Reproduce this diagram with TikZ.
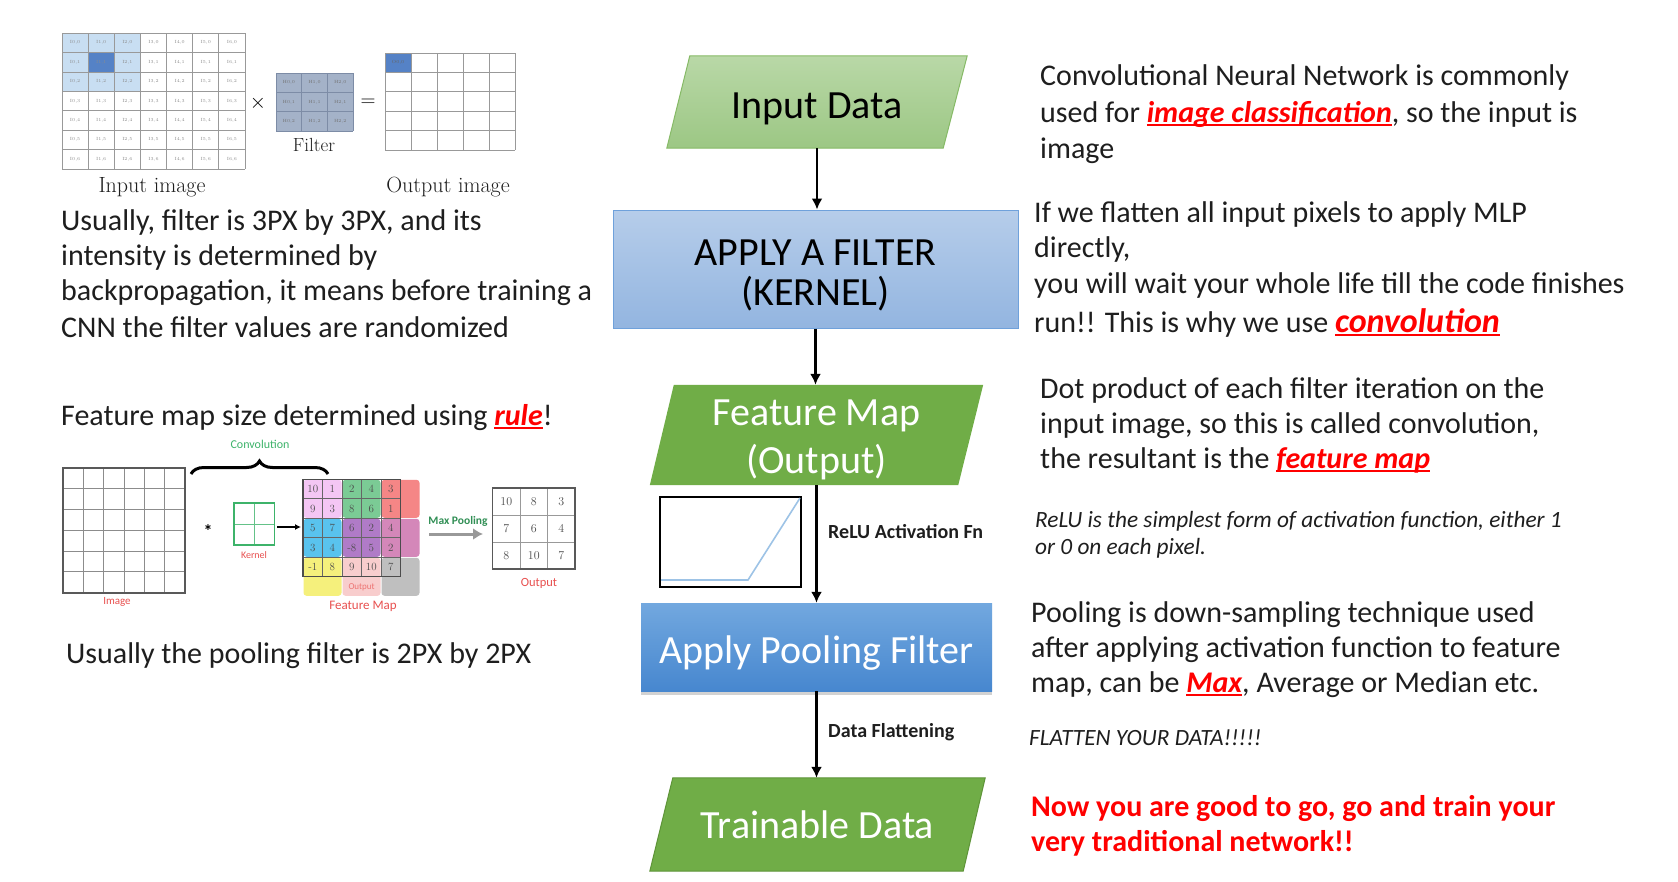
\documentclass[tikz,border=0pt]{standalone}
\usepackage{fontspec}
\setsansfont{Carlito}
\renewcommand{\familydefault}{\sfdefault}
\usetikzlibrary{arrows.meta,backgrounds,shadows,decorations.pathreplacing}

\definecolor{inTop}{HTML}{B9D8A7}
\definecolor{inBot}{HTML}{9CC784}
\definecolor{inLine}{HTML}{86BA66}
\definecolor{fTop}{HTML}{B6CDEA}
\definecolor{fBot}{HTML}{93B5E0}
\definecolor{fLine}{HTML}{6FA1DB}
\definecolor{leaf}{HTML}{70AD47}
\definecolor{leafLine}{HTML}{5E9438}
\definecolor{pTop}{HTML}{72A8DF}
\definecolor{pBot}{HTML}{4787CF}
\definecolor{reluC}{HTML}{9DC3E6}
\definecolor{hot}{HTML}{FF0000}
\definecolor{ink}{HTML}{1E1E1E}
\definecolor{cellBlue}{HTML}{C8DEF2}
\definecolor{cellDark}{HTML}{5582C6}
\definecolor{filtFill}{HTML}{A4B2C8}
\definecolor{filtLine}{HTML}{7D8CA6}
\definecolor{fmA}{HTML}{F4C6F4}
\definecolor{fmB}{HTML}{7BCB95}
\definecolor{fmC}{HTML}{F58686}
\definecolor{fmD}{HTML}{59C3EE}
\definecolor{fmE}{HTML}{B07BC7}
\definecolor{fmF}{HTML}{D487B9}
\definecolor{fmG}{HTML}{F5F07C}
\definecolor{fmH}{HTML}{F8CDCD}
\definecolor{fmI}{HTML}{BFBFBF}
\definecolor{convGreen}{HTML}{3DB36A}
\definecolor{softRed}{HTML}{E8504F}

% red bold italic underlined keyword
\newsavebox{\kwbox}
\newcommand{\keyword}[1]{{\color{hot}\bfseries\itshape\sbox{\kwbox}{#1}%
  \rlap{\rule[-0.12em]{\wd\kwbox}{0.065em}}\usebox{\kwbox}}}

\tikzset{
  body/.style={anchor=base west, inner sep=0pt, text=ink, font=\fontsize{30}{36}\selectfont},
  note/.style={anchor=base west, inner sep=0pt, text=ink, font=\fontsize{23.3}{26}\selectfont\itshape},
  shout/.style={anchor=base west, inner sep=0pt, text=hot, font=\fontsize{30}{36}\selectfont\bfseries},
  flowtxt/.style={font=\fontsize{40}{40}\selectfont, align=center, inner sep=0pt},
  arrowlbl/.style={anchor=west, inner sep=0pt, font=\fontsize{20}{22}\selectfont\bfseries, text=ink},
  flow/.style={line width=2.6pt, -{Latex[length=11pt,width=11pt]}},
  celltxt/.style={inner sep=0pt, font=\rmfamily\fontsize{4.5}{5}\selectfont, text=black!45},
  caption/.style={inner sep=0pt, font=\rmfamily\fontsize{22}{24}\selectfont, text=ink},
  tiny/.style={inner sep=0pt, font=\fontsize{12}{13}\selectfont},
  fmnum/.style={inner sep=0pt, font=\rmfamily\fontsize{11}{12}\selectfont, text=black!70},
}

\begin{document}
\begin{tikzpicture}[x=1pt,y=-1pt]
\useasboundingbox (0,0) rectangle (1678,881);

% ---------------- flowchart ----------------
\node[flowtxt, text height=32pt, text depth=0pt, minimum width=300, minimum height=92] (inp) at (817,102) {Input Data};
\node[minimum width=405, minimum height=118, inner sep=0pt, draw=fLine, line width=1pt,
      top color=fTop, bottom color=fBot] (filt) at (815.5,269) {};
\node[flowtxt] (filttxt) at (815.5,275.5) {APPLY A FILTER\\(KERNEL)};
\node[minimum width=333, minimum height=100, inner sep=0pt] (fmap) at (816.5,435) {};
\node[flowtxt, font=\fontsize{40}{48}\selectfont, text=white] (fmaptxt) at (816.5,440) {Feature Map\\(Output)};
\node[flowtxt, text height=32pt, text depth=0pt, text=white, minimum width=351, minimum height=88, top color=pTop, bottom color=pBot,
      drop shadow={shadow xshift=0pt, shadow yshift=-4pt, opacity=0.35}] (pool) at (816.5,647) {Apply Pooling Filter};
\node[flowtxt, text depth=0pt, text=white, minimum width=335, minimum height=93] (train) at (817.5,824.5) {Trainable Data};

\begin{scope}[on background layer]
  \fill[white] (0,0) rectangle (1678,881);
  \path[draw=inLine, line width=1pt, top color=inTop, bottom color=inBot]
    ([xshift=23pt]inp.north west) -- (inp.north east) -- ([xshift=-24pt]inp.south east) -- (inp.south west) -- cycle;
  \path[fill=leaf]
    ([xshift=24pt]fmap.north west) -- (fmap.north east) -- ([xshift=-25pt]fmap.south east) -- (fmap.south west) -- cycle;
  \path[fill=leaf, draw=leafLine, line width=1pt]
    ([xshift=23pt]train.north west) -- (train.north east) -- ([xshift=-22pt]train.south east) -- (train.south west) -- cycle;
\end{scope}

\draw[flow] (inp.south) -- (inp.south |- filt.north);
\draw[flow] (filt.south) -- (filt.south |- fmap.north);
\draw[flow] (fmap.south) -- (fmap.south |- pool.north);
\draw[flow] (pool.south) -- (pool.south |- train.north);

\node[arrowlbl] (relulbl) at (828,532) {ReLU Activation Fn};
\node[arrowlbl] (flatlbl) at (828,732) {Data Flattening};

% ReLU sketch
\node[draw=black, line width=1.2pt, minimum width=141, minimum height=90, inner sep=0pt] (relu) at (730.5,542) {};
\draw[reluC, line width=1.6pt] (661,580) -- (748,580) -- (800,498);

% ---------------- right-hand notes ----------------
\node[body] (r1a) at (1040,85)  {Convolutional Neural Network is commonly};
\node[body] (r1b) at (1040,122) {used for \keyword{image classification}, so the input is};
\node[body] (r1c) at (1040,158) {image};

\node[body] (r2a) at (1034,222) {If we flatten all input pixels to apply MLP};
\node[body] (r2b) at (1034,257) {directly,};
\node[body] (r2c) at (1034,293) {you will wait your whole life till the code finishes};
\node[body] (r2d) at (1034,332) {run!! This is why we use {\fontsize{34}{34}\selectfont\keyword{convolution}}};

\node[body] (r3a) at (1040,398) {Dot product of each filter iteration on the};
\node[body] (r3b) at (1040,433) {input image, so this is called convolution,};
\node[body] (r3c) at (1040,468) {the resultant is the \keyword{feature map}};

\node[note] (r4a) at (1035,527) {ReLU is the simplest form of activation function, either 1};
\node[note] (r4b) at (1035,554) {or 0 on each pixel.};

\node[body] (r5a) at (1031,622) {Pooling is down-sampling technique used};
\node[body] (r5b) at (1031,657) {after applying activation function to feature};
\node[body] (r5c) at (1031,692) {map, can be \keyword{Max}, Average or Median etc.};

\node[note] (r6) at (1029,745) {FLATTEN YOUR DATA!!!!!};

\node[shout] (r7a) at (1031,816) {Now you are good to go, go and train your};
\node[shout] (r7b) at (1031,851) {very traditional network!!};

% ---------------- left-hand notes ----------------
\node[body] (l1a) at (61,230) {Usually, filter is 3PX by 3PX, and its};
\node[body] (l1b) at (61,265) {intensity is determined by};
\node[body] (l1c) at (61,300) {backpropagation, it means before training a};
\node[body] (l1d) at (61,337) {CNN the filter values are randomized};
\node[body] (l2)  at (61,425) {Feature map size determined using \keyword{rule}!};
\node[body] (l3)  at (66,663) {Usually the pooling filter is 2PX by 2PX};

% ---------------- convolution sketch (top left) ----------------
% input image 7x7
\fill[cellBlue] (62,33) rectangle ({62+3*26.14},{33+3*19.43});
\fill[cellDark] ({62+26.14},{33+19.43}) rectangle ({62+2*26.14},{33+2*19.43});
\foreach \k in {0,...,7}{
  \draw[black!40, line width=0.7pt] ({62+26.14*\k},33) -- ({62+26.14*\k},169);
  \draw[black!40, line width=0.7pt] (62,{33+19.43*\k}) -- (245,{33+19.43*\k});
}
\foreach \c in {0,...,6}{\foreach \r in {0,...,6}{
  \node[celltxt] (ic\c\r) at ({62+26.14*(\c+0.5)},{33+19.43*(\r+0.5)}) {I\c,\r};
}}
\node[caption] (incap) at (152,187) {Input image};
\node[inner sep=0pt, font=\rmfamily\fontsize{20}{20}\selectfont] (times) at (258,103) {$\times$};

% filter 3x3
\fill[filtFill] (276,73) rectangle (353,131);
\foreach \k in {0,...,3}{
  \draw[filtLine, line width=0.7pt] ({276+25.67*\k},73) -- ({276+25.67*\k},131);
  \draw[filtLine, line width=0.7pt] (276,{73+19.33*\k}) -- (353,{73+19.33*\k});
}
\foreach \c in {0,...,2}{\foreach \r in {0,...,2}{
  \node[celltxt, text=black!55] (hc\c\r) at ({276+25.67*(\c+0.5)},{73+19.33*(\r+0.5)}) {H\c,\r};
}}
\node[caption, font=\rmfamily\fontsize{19}{20}\selectfont] (filtcap) at (314,145) {Filter};
\node[inner sep=0pt, font=\rmfamily\fontsize{20}{20}\selectfont] (equals) at (368,103) {$=$};

% output 5x5
\fill[cellDark] (385,53) rectangle (411,72.4);
\foreach \k in {0,...,5}{
  \draw[black!40, line width=0.7pt] ({385+26*\k},53) -- ({385+26*\k},150);
  \draw[black!40, line width=0.7pt] (385,{53+19.4*\k}) -- (515,{53+19.4*\k});
}
\node[celltxt, text=black!60] (oc00) at (398,62.7) {O0,0};
\node[caption] (outcap) at (448,187) {Output image};

% ---------------- pooling sketch (bottom left) ----------------
% image 6x6
\def\gx{63}\def\gy{468}\def\gw{20.32}\def\gh{20.77}
\foreach \k in {1,...,5}{
  \draw[black!45, line width=0.8pt] ({\gx+\gw*\k},\gy) -- ({\gx+\gw*\k},{\gy+6*\gh});
  \draw[black!45, line width=0.8pt] (\gx,{\gy+\gh*\k}) -- ({\gx+6*\gw},{\gy+\gh*\k});
}
\draw[black!65, line width=1.8pt] (\gx,\gy) rectangle ({\gx+6*\gw},{\gy+6*\gh});
\node[tiny, text=softRed, font=\fontsize{11}{12}\selectfont] (imglbl) at (117,602) {Image};

% brace + label
\draw[line width=3pt, decorate, decoration={brace, amplitude=13pt}] (191,474) -- (328,474);
\node[tiny, text=convGreen] (convlbl) at (260,444) {Convolution};

\node[inner sep=0pt, font=\fontsize{18}{18}\selectfont\bfseries] (star) at (208,531) {*};

% kernel 2x2
\draw[convGreen!80, line width=0.8pt] (254.25,503) -- (254.25,545) (234,524) -- (274.5,524);
\draw[convGreen, line width=1.5pt] (234,503) rectangle (274.5,545);
\node[tiny, text=softRed, font=\fontsize{10}{11}\selectfont] (kerlbl) at (254,555) {Kernel};
\coordinate (kerR) at (277,527);
\coordinate (fmL) at (301,527);
\draw[line width=1.5pt, -{Latex[length=6pt,width=6pt]}] (kerR) -- (fmL);

% feature map: 2x2 coloured pooling windows
\def\fx{303}\def\fy{479.3}\def\cw{19.5}\def\ch{19.5}
\foreach \bx/\by/\col in {0/0/fmA,1/0/fmB,2/0/fmC,0/1/fmD,1/1/fmE,2/1/fmF,0/2/fmG,1/2/fmH,2/2/fmI}{
  \fill[\col, rounded corners=3pt] ({\fx+2*\cw*\bx+0.5},{\fy+2*\ch*\by+0.5}) rectangle ({\fx+2*\cw*(\bx+1)-0.5},{\fy+2*\ch*(\by+1)-0.5});
}
\foreach \k in {1,...,4}{
  \draw[black!60, line width=0.7pt] ({\fx+\cw*\k},\fy) -- ({\fx+\cw*\k},{\fy+5*\ch});
  \draw[black!60, line width=0.7pt] (\fx,{\fy+\ch*\k}) -- ({\fx+5*\cw},{\fy+\ch*\k});
}
\draw[black!70, line width=1.3pt] (\fx,\fy) rectangle ({\fx+5*\cw},{\fy+5*\ch});
\foreach \r/\row in {0/{10,1,2,4,3},1/{9,3,8,6,1},2/{5,7,6,2,4},3/{3,4,-8,5,2},4/{-1,8,9,10,7}}{
  \foreach \v [count=\c from 0] in \row {
    \node[fmnum] (fm\r\c) at ({\fx+\cw*(\c+0.5)},{\fy+\ch*(\r+0.5)}) {\v};
  }
}
\node[tiny, text=softRed!80, font=\fontsize{9}{10}\selectfont] (fmout) at (361.6,587) {Output};
\node[tiny, text=softRed, font=\fontsize{13}{14}\selectfont] (fmlbl) at (363,606) {Feature Map};

% max pooling arrow
\node[tiny, text=convGreen!80!black, font=\fontsize{11.5}{12}\selectfont\bfseries] (mplbl) at (458,521) {Max Pooling};
\coordinate (mpA) at (429,534);
\coordinate (mpB) at (483,534);
\draw[black!40, line width=3pt, -{Latex[length=10pt,width=12pt]}] (mpA) -- (mpB);

% pooled output 3x3
\def\ox{492.5}\def\oy{488.3}\def\ow{27.5}\def\oh{27}
\foreach \k in {1,2}{
  \draw[black!40, line width=0.8pt] ({\ox+\ow*\k},\oy) -- ({\ox+\ow*\k},{\oy+3*\oh});
  \draw[black!40, line width=0.8pt] (\ox,{\oy+\oh*\k}) -- ({\ox+3*\ow},{\oy+\oh*\k});
}
\draw[black!65, line width=1.8pt] (\ox,\oy) rectangle ({\ox+3*\ow},{\oy+3*\oh});
\foreach \r/\row in {0/{10,8,3},1/{7,6,4},2/{8,10,7}}{
  \foreach \v [count=\c from 0] in \row {
    \node[fmnum, font=\rmfamily\fontsize{12}{13}\selectfont] (po\r\c) at ({\ox+\ow*(\c+0.5)},{\oy+\oh*(\r+0.5)}) {\v};
  }
}
\node[tiny, text=softRed, font=\fontsize{12.5}{13}\selectfont] (polbl) at (539,583) {Output};

\end{tikzpicture}
\end{document}
